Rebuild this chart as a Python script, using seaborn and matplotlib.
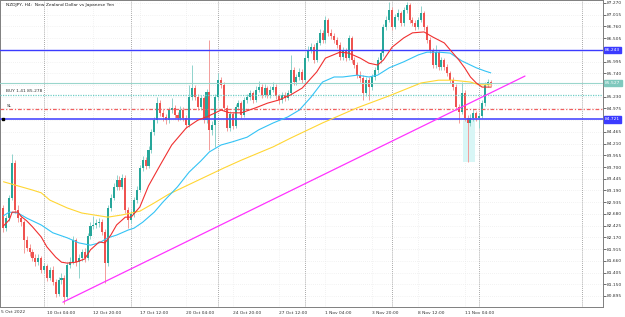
import matplotlib
matplotlib.use('Agg')
import matplotlib.pyplot as plt
import pandas as pd
import seaborn as sns

# NZDJPY H4 candles (bar index 0 = first visible bar)
first_open = 82.81
closes = [82.37, 82.59, 83.03, 83.79, 82.77, 82.59, 82.50, 82.11, 81.94, 81.85,
          81.72, 81.63, 81.72, 81.46, 81.55, 81.29, 81.46, 81.20, 80.94, 81.24,
          81.29, 80.87, 81.57, 81.63, 82.11, 81.63, 81.72, 81.85, 81.72, 82.20,
          82.42, 82.44, 82.48, 82.50, 82.29, 81.61, 82.81, 83.03, 83.27, 83.42,
          83.27, 83.46, 82.77, 82.55, 82.68, 82.98, 83.20, 83.68, 83.85, 83.72,
          84.07, 84.46, 84.72, 85.09, 84.88, 84.79, 84.72, 84.94, 84.99, 84.83,
          84.77, 84.94, 84.77, 84.61, 85.22, 85.42, 85.22, 85.01, 85.20, 84.72,
          85.33, 84.51, 84.61, 85.22, 85.59, 85.49, 84.99, 84.55, 84.85, 84.59,
          85.01, 85.09, 84.83, 85.16, 85.22, 85.31, 85.16, 85.38, 85.44, 85.27,
          85.42, 85.27, 85.38, 85.44, 85.25, 85.16, 85.27, 85.20, 85.31, 85.81,
          85.55, 85.66, 85.77, 85.59, 86.07, 86.25, 86.31, 86.03, 86.40, 86.62,
          86.46, 86.90, 86.62, 86.55, 86.46, 86.36, 86.10, 86.25, 86.07, 86.51,
          86.03, 85.92, 85.70, 85.64, 85.31, 85.59, 85.44, 85.66, 85.81, 86.03,
          86.18, 86.75, 86.90, 87.12, 86.75, 86.97, 87.05, 86.83, 87.12, 87.23,
          86.90, 86.83, 86.75, 86.90, 87.05, 86.75, 86.46, 86.25, 85.92, 86.20,
          85.88, 86.03, 85.88, 85.75, 85.59, 85.44, 85.01, 84.90, 85.31, 84.77,
          84.66, 84.77, 84.88, 84.77, 84.81, 85.09, 85.49, 85.55, 85.53]
highs = [82.88, 82.66, 83.10, 83.99, 83.85, 82.87, 82.66, 82.55, 82.20, 82.02,
         81.92, 81.80, 81.81, 81.77, 81.62, 81.60, 81.52, 81.55, 81.27, 81.30,
         81.40, 81.35, 81.63, 81.75, 82.20, 82.16, 81.80, 81.92, 81.93, 82.26,
         82.50, 82.63, 82.56, 82.60, 82.56, 82.35, 82.88, 83.12, 83.35, 83.52,
         83.50, 83.55, 83.52, 82.83, 82.76, 83.05, 83.28, 83.75, 83.93, 83.92,
         84.15, 84.52, 84.80, 85.22, 85.15, 84.96, 84.86, 85.00, 85.20, 85.05,
         84.90, 85.02, 85.00, 84.83, 85.49, 85.92, 85.48, 85.28, 85.27, 85.25,
         85.40, 86.46, 84.70, 85.28, 85.75, 85.66, 85.55, 85.05, 84.92, 84.90,
         85.08, 85.16, 85.14, 85.22, 85.30, 85.38, 85.36, 85.46, 85.58, 85.50,
         85.50, 85.47, 85.46, 85.55, 85.50, 85.30, 85.34, 85.33, 85.38, 86.14,
         85.88, 85.73, 85.85, 85.83, 86.14, 86.33, 86.40, 86.37, 86.47, 86.70,
         86.68, 86.99, 86.95, 86.70, 86.62, 86.52, 86.42, 86.32, 86.30, 86.58,
         86.56, 86.10, 85.98, 85.78, 85.70, 85.66, 85.65, 85.73, 85.88, 86.10,
         86.26, 86.82, 86.98, 87.29, 87.18, 87.04, 87.13, 87.10, 87.19, 87.29,
         87.27, 86.97, 86.90, 86.97, 87.20, 87.10, 86.80, 86.52, 86.30, 86.36,
         86.25, 86.10, 86.08, 85.94, 85.80, 85.65, 85.50, 85.07, 85.55, 85.38,
         84.84, 84.85, 84.96, 84.93, 84.88, 85.15, 85.55, 85.62, 85.60]
lows = [82.28, 82.31, 82.52, 82.98, 82.70, 82.50, 82.42, 81.83, 81.88, 81.77,
        81.66, 81.55, 81.57, 81.40, 81.40, 81.22, 81.24, 81.14, 80.88, 80.90,
        81.15, 80.72, 80.82, 81.50, 81.58, 81.55, 81.29, 81.66, 81.64, 81.68,
        82.14, 82.35, 82.38, 82.40, 82.22, 81.18, 81.55, 82.74, 82.98, 83.20,
        83.20, 83.22, 82.70, 82.37, 82.48, 82.62, 82.92, 83.15, 83.62, 83.65,
        83.68, 84.00, 84.40, 84.66, 84.82, 84.70, 84.64, 84.66, 84.88, 84.76,
        84.70, 84.72, 84.70, 84.54, 84.57, 85.16, 85.15, 84.95, 84.95, 84.65,
        84.66, 84.07, 84.40, 84.14, 85.16, 85.42, 84.92, 84.48, 84.48, 84.52,
        84.54, 84.95, 84.77, 84.78, 85.10, 85.16, 85.10, 85.11, 85.33, 85.20,
        85.22, 85.20, 85.21, 85.33, 85.18, 85.08, 85.10, 85.13, 85.15, 85.26,
        85.48, 85.49, 85.60, 85.52, 85.54, 86.00, 86.18, 85.96, 85.98, 86.35,
        86.40, 86.41, 86.55, 86.48, 86.40, 86.30, 86.03, 86.04, 86.00, 86.02,
        85.96, 85.85, 85.63, 85.56, 85.16, 85.25, 85.16, 85.38, 85.60, 85.75,
        85.97, 86.12, 86.68, 86.85, 86.68, 86.70, 86.90, 86.76, 86.78, 87.06,
        86.83, 86.76, 86.68, 86.70, 86.85, 86.68, 86.40, 86.18, 85.85, 85.86,
        85.81, 85.82, 85.81, 85.68, 85.52, 85.37, 84.94, 84.66, 84.85, 84.70,
        83.81, 84.60, 84.70, 84.70, 84.55, 84.76, 85.03, 85.44, 85.45]

# moving averages
red_ma_bar = [0, 2, 3, 5, 6, 8, 10, 13, 15, 18, 20, 22, 25, 28, 30, 33, 35, 37, 39, 42,
              44, 47, 50, 54, 58, 63, 67, 70, 75, 78, 82, 87, 91, 95, 99, 103, 108, 111, 116, 119,
              123, 126, 129, 131, 134, 138, 141, 145, 148, 152, 154, 157, 159, 161, 163, 165, 168]
red_ma_val = [82.42, 82.55, 82.72, 82.72, 82.63, 82.53, 82.40, 82.18, 81.96, 81.74,
              81.63, 81.61, 81.63, 81.70, 81.90, 82.07, 82.05, 82.22, 82.44, 82.61,
              82.61, 82.83, 83.29, 83.74, 84.18, 84.55, 84.72, 84.79, 84.94, 84.88,
              84.88, 84.99, 85.09, 85.16, 85.27, 85.42, 85.77, 86.07, 86.20, 86.18,
              86.07, 85.96, 85.92, 86.03, 86.31, 86.51, 86.62, 86.64, 86.53, 86.40,
              86.25, 86.03, 85.86, 85.66, 85.53, 85.44, 85.44]
cyan_ma_bar = [0, 2, 5, 8, 13, 17, 22, 26, 30, 33, 36, 39, 43, 45, 48, 52, 55, 60, 64, 68,
               71, 75, 79, 84, 88, 93, 98, 102, 106, 110, 114, 117, 122, 126, 129, 133, 138, 143, 146, 150,
               154, 158, 163, 166, 168]
cyan_ma_val = [82.64, 82.72, 82.70, 82.59, 82.44, 82.27, 82.16, 82.05, 82.00, 82.05,
               82.16, 82.22, 82.33, 82.37, 82.50, 82.72, 82.94, 83.27, 83.59, 83.83,
               84.03, 84.18, 84.25, 84.35, 84.51, 84.66, 84.79, 84.94, 85.22, 85.55,
               85.66, 85.66, 85.70, 85.66, 85.70, 85.86, 85.99, 86.14, 86.20, 86.20,
               86.18, 86.01, 85.86, 85.79, 85.75]
yellow_ma_bar = [0, 5, 10, 13, 16, 22, 27, 33, 36, 41, 47, 52, 57, 63, 68, 76, 82, 93, 99, 110,
                 122, 133, 144, 150, 155, 161, 164, 168]
yellow_ma_val = [83.38, 83.29, 83.20, 83.14, 82.98, 82.81, 82.70, 82.64, 82.61, 82.66,
                 82.74, 82.92, 83.11, 83.29, 83.44, 83.68, 83.85, 84.14, 84.33, 84.66,
                 84.99, 85.25, 85.53, 85.59, 85.59, 85.55, 85.49, 85.49]

trend_bar = [20.5, 179.8]
trend_val = [80.76, 85.68]

resist_level = 86.243
bid_level = 85.527
buy_level = 85.278
sl_level = 84.965
support_level = 84.735

time_ticks = [15, 31, 47, 63, 79, 95, 111, 127, 143, 159]
time_labels = ['10 Oct 04:00', '12 Oct 20:00', '17 Oct 12:00', '20 Oct 04:00', '24 Oct 20:00',
               '27 Oct 12:00', '1 Nov 04:00', '3 Nov 20:00', '8 Nov 12:00', '11 Nov 04:00']
week_sep = [14, 44, 74, 104, 134, 164, 199.5]
price_ticks = [80.895, 81.150, 81.405, 81.660, 81.915, 82.170, 82.425, 82.680, 82.935,
               83.190, 83.445, 83.700, 83.955, 84.210, 84.465, 84.720, 84.975, 85.230,
               85.485, 85.740, 85.995, 86.250, 86.505, 86.760, 87.015, 87.270]

sns.set_style('white')
plt.rcParams['font.family'] = ['DejaVu Sans']

df = pd.DataFrame({'close': closes, 'high': highs, 'low': lows})
df['open'] = [first_open] + closes[:-1]
df['bar'] = range(len(df))
up = df['close'] >= df['open']

bull = '#26a69a'
bear = '#ef5350'

fig = plt.figure(figsize=(6.25, 3.17), dpi=100)
ax = fig.add_axes([0, 10 / 317, 603 / 625, 307 / 317])
ax.set_xlim(-1.2, 206.7)
ax.set_ylim(80.655, 87.335)

# grid and week separators
for p in price_ticks:
    ax.axhline(p, color='#e6e6e6', lw=0.5, ls=(0, (1, 2)), zorder=0)
for t in time_ticks:
    ax.axvline(t, color='#e6e6e6', lw=0.5, ls=(0, (1, 2)), zorder=0)
for s in week_sep:
    ax.axvline(s, color='#8c8c8c', lw=0.6, ls=(0, (1, 1.5)), zorder=1)

# highlighted bar zone
ax.add_patch(plt.Rectangle((158.4, 83.81), 4.2, 0.96, color='#d8f6f6', zorder=1, lw=0))

# candles
colors = [bull if u else bear for u in up]
wick_colors = ['#8fd3cc' if u else '#f39c9a' for u in up]
ax.vlines(df['bar'], df['low'], df['high'], colors=wick_colors, lw=0.7, zorder=2)
body = (df['close'] - df['open']).abs().clip(lower=0.012)
ax.bar(df['bar'], body, bottom=df[['open', 'close']].min(axis=1), width=0.7,
       color=colors, lw=0, zorder=2.5)

# levels
ax.axhline(resist_level, color='#3b3bff', lw=1.0, zorder=3)
ax.axhline(bid_level, color='#9ad6cc', lw=0.8, zorder=3)
ax.axhline(buy_level, color='#6fcfc6', lw=0.9, ls=(0, (1, 1)), zorder=3)
ax.axhline(sl_level, color='#f06060', lw=0.9, ls=(0, (3, 1.5, 1, 1.5)), zorder=3)
ax.axhline(support_level, color='#4a4aff', lw=1.2, zorder=3)
ax.plot([0], [support_level], marker='s', ms=2, color='black', zorder=5, clip_on=False)

# moving averages
sns.lineplot(x=yellow_ma_bar, y=yellow_ma_val, ax=ax, color='#ffd633', lw=0.8, zorder=4)
sns.lineplot(x=cyan_ma_bar, y=cyan_ma_val, ax=ax, color='#33c3f5', lw=0.8, zorder=4)
sns.lineplot(x=red_ma_bar, y=red_ma_val, ax=ax, color='#f03030', lw=0.8, zorder=4)
sns.lineplot(x=trend_bar, y=trend_val, ax=ax, color='#ff33ff', lw=0.9, zorder=4)

# texts
ax.text(1.0, 87.27, 'NZDJPY, H4:  New Zealand Dollar vs Japanese Yen', fontsize=3.2,
        color='#222222', va='top', ha='left')
ax.text(1.0, buy_level + 0.03, 'BUY 1.41 85.278', fontsize=3.2, color='#333333', va='bottom')
ax.text(1.0, sl_level + 0.03, 'SL', fontsize=3.2, color='#333333', va='bottom')

# axes look
for sp in ax.spines.values():
    sp.set_color('#7f7f7f')
    sp.set_linewidth(0.7)
ax.yaxis.tick_right()
ax.set_yticks(price_ticks)
# labels hidden under the price boxes
covered = [86.250, 85.485, 84.720]
ax.set_yticklabels(['' if p in covered else '{:.3f}'.format(p) for p in price_ticks])
ax.tick_params(axis='y', length=2, width=0.5, pad=1, labelsize=3.2, colors='#333333')
ax.set_xticks(time_ticks)
ax.set_xticklabels(time_labels, ha='left')
ax.tick_params(axis='x', length=2, width=0.5, pad=0.8, labelsize=3.2, colors='#333333')
ax.set_xlabel('')
ax.set_ylabel('')
fig.text(0.001, 7 / 317, '5 Oct 2022', fontsize=3.2, color='#333333', ha='left', va='top')

# price boxes on the scale
for lvl, txt, col in [(resist_level, '86.243', '#3b3bff'), (bid_level, '85.527', '#7fc8bd'),
                      (support_level, '84.721', '#3b3bff')]:
    ax.annotate(txt, xy=(1.0, lvl), xycoords=('axes fraction', 'data'), xytext=(1.5, 0),
                textcoords='offset points', fontsize=3.2, color='white', va='center', ha='left',
                bbox=dict(boxstyle='square,pad=0.25', fc=col, ec=col), zorder=10,
                annotation_clip=False)

plt.savefig('out.png', dpi=100)
